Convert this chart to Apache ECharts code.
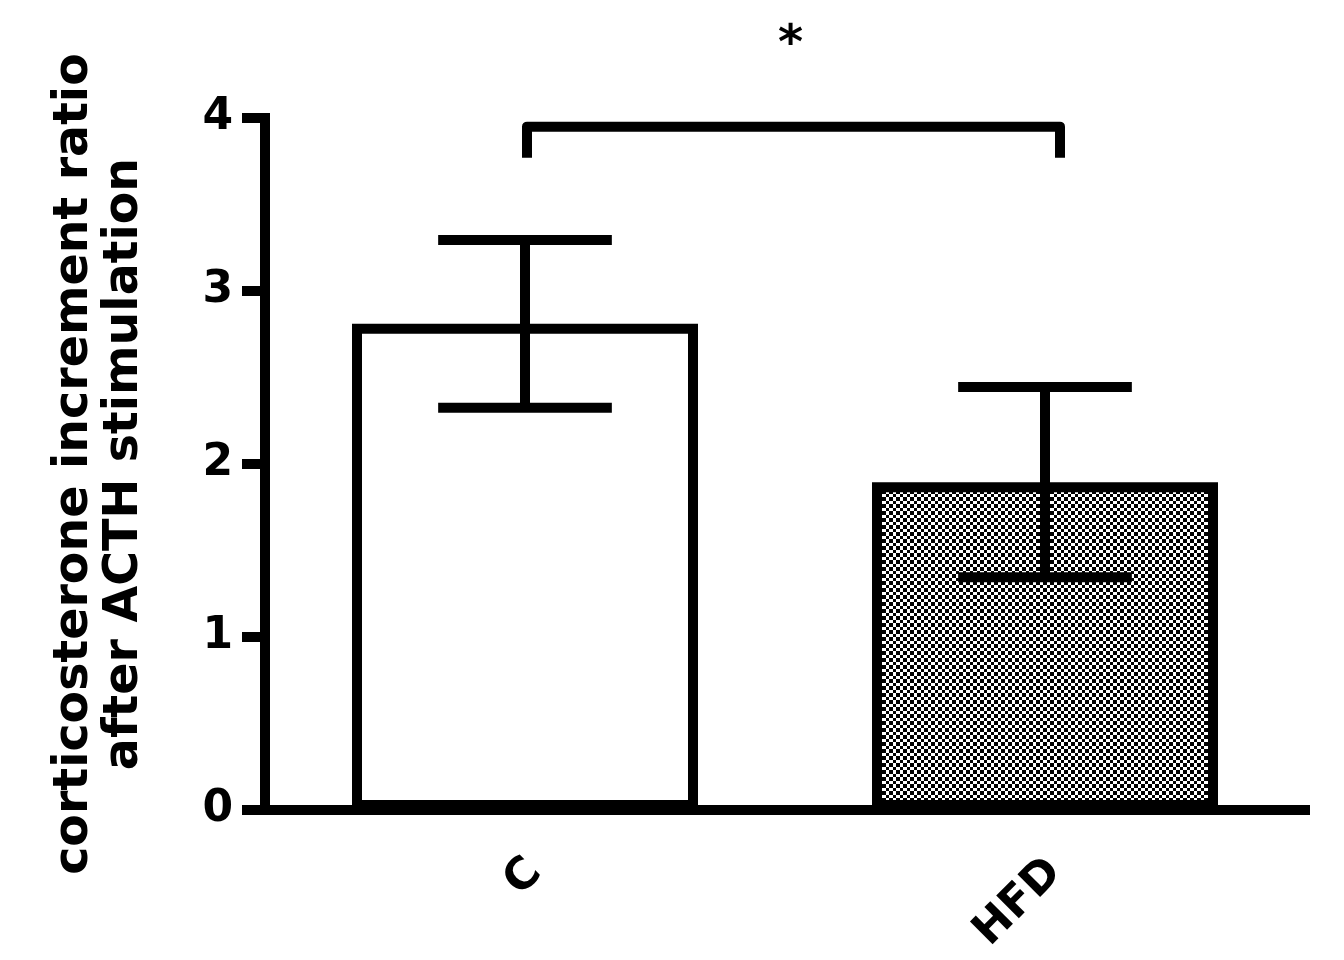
<!DOCTYPE html>
<html>
<head>
<meta charset="utf-8">
<script src="https://cdn.jsdelivr.net/npm/echarts@6/dist/echarts.min.js"></script>
<style>
  html, body { margin: 0; padding: 0; background: #fff; }
  #chart { width: 1344px; height: 960px; }
</style>
</head>
<body>
<div id="chart"></div>
<script>
// data
var groups = ['C', 'HFD'];
var means = [2.81, 1.895];
var sems = [0.485, 0.55];
var yTicks = [0, 1, 2, 3, 4];
var yTitle = ['corticosterone increment ratio', 'after ACTH stimulation'];
// significance bracket between C and HFD
var sigPair = [0, 1];
var sigTop = 3.95;
var sigFoot = 3.77;
var sigStarY = 4.42;
var sigText = '*';

var FONT = 'DejaVu Sans';

//checker fill for HFD bar
function make_checker(){
  var c = document.createElement('canvas');
  c.width = 14; c.height = 14;
  var ctx = c.getContext('2d');
  ctx.fillStyle = '#fff';
  ctx.fillRect(0, 0, 14, 14);
  ctx.fillStyle = '#000';
  var edges = [0, 4, 7, 11, 14];
  for(var i = 0; i < 4; i++){
    for(var j = 0; j < 4; j++){
      if((i + j) % 2 == 0){
        ctx.fillRect(edges[i], edges[j], edges[i+1]-edges[i], edges[j+1]-edges[j]);
      }
    }
  }
  return c;
}

var fills = ['#ffffff', {image: make_checker(), repeat: 'repeat'}];

var barData = [];
var errData = [];
for(var i = 0; i < groups.length; i++){
  barData.push({value: means[i], itemStyle: {color: fills[i]}});
  errData.push([i, means[i] - sems[i], means[i] + sems[i]]);
}

var chart = echarts.init(document.getElementById('chart'));

var option = {
  backgroundColor: '#fff',
  animation: false,
  grid: {left: 265, right: 39, top: 118, bottom: 150, containLabel: false},
  xAxis: {
    type: 'category',
    data: groups,
    axisLine: {lineStyle: {color: '#000', width: 10, cap: 'square'}},
    axisTick: {alignWithLabel: true, length: 22, lineStyle: {color: '#000', width: 10}},
    axisLabel: {
      interval: 0, rotate: 45, margin: 46, verticalAlign: 'top', lineHeight: 28,
      color: '#000', fontFamily: FONT, fontWeight: 'bold', fontSize: 44
    },
    splitLine: {show: false}
  },
  yAxis: {
    type: 'value',
    min: yTicks[0],
    max: yTicks[yTicks.length - 1],
    interval: 1,
    name: yTitle.join('\n'),
    nameLocation: 'middle',
    nameGap: 115,
    nameTextStyle: {color: '#000', fontFamily: FONT, fontWeight: 'bold', fontSize: 47.5, lineHeight: 50},
    axisLine: {show: true, lineStyle: {color: '#000', width: 10, cap: 'square'}},
    axisTick: {show: true, length: 23, lineStyle: {color: '#000', width: 10}},
    axisLabel: {margin: 32, color: '#000', fontFamily: FONT, fontWeight: 'bold', fontSize: 44},
    splitLine: {show: false}
  },
  series: [
    {
      type: 'bar',
      data: barData,
      barWidth: 346,
      itemStyle: {borderColor: '#000', borderWidth: 10},
      z: 2
    },
    {
      //error bars (mean ± SEM)
      type: 'custom',
      data: errData,
      z: 5,
      renderItem: function(params, api){
        var lo = api.coord([api.value(0), api.value(1)]);
        var hi = api.coord([api.value(0), api.value(2)]);
        var half = api.size([1, 0])[0] * 0.167;
        var st = {stroke: '#000', lineWidth: 10};
        return {
          type: 'group',
          children: [
            {type: 'line', shape: {x1: hi[0], y1: hi[1], x2: lo[0], y2: lo[1]}, style: st},
            {type: 'line', shape: {x1: hi[0] - half, y1: hi[1], x2: hi[0] + half, y2: hi[1]}, style: st},
            {type: 'line', shape: {x1: lo[0] - half, y1: lo[1], x2: lo[0] + half, y2: lo[1]}, style: st}
          ]
        };
      }
    },
    {
      //significance bracket
      type: 'custom',
      data: [[sigPair[0], sigPair[1], sigTop, sigFoot, sigStarY]],
      z: 5,
      clip: false,
      renderItem: function(params, api){
        var a = api.coord([api.value(0), api.value(2)]);
        var b = api.coord([api.value(1), api.value(2)]);
        var foot = api.coord([api.value(0), api.value(3)])[1];
        var star = api.coord([api.value(0), api.value(4)])[1];
        var x1 = a[0] + 2, x2 = b[0] + 15;
        return {
          type: 'group',
          children: [
            {
              type: 'polyline',
              shape: {points: [[x1, foot], [x1, a[1]], [x2, a[1]], [x2, foot]]},
              style: {stroke: '#000', lineWidth: 10, fill: null, lineJoin: 'round'}
            },
            {
              type: 'text',
              style: {
                x: (x1 + x2) / 2 - 3, y: star, text: sigText,
                fill: '#000', font: 'bold 48px "' + FONT + '"',
                align: 'center', verticalAlign: 'middle'
              }
            }
          ]
        };
      }
    }
  ]
};

chart.setOption(option);
</script>
</body>
</html>
